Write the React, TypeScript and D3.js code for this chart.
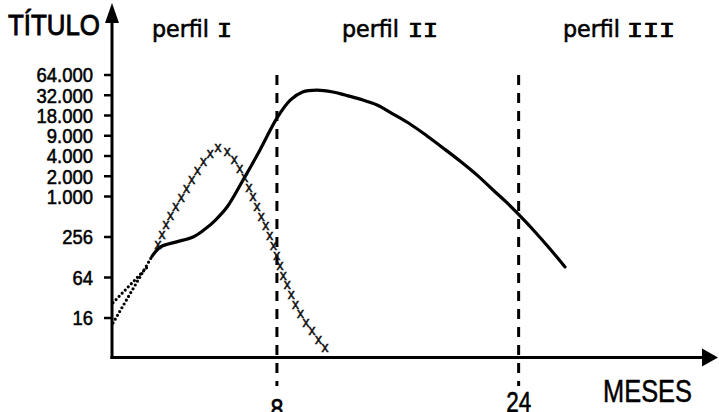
import React, { useEffect, useRef } from 'react';
import * as d3 from 'd3';

const W = 719;
const H = 412;

// Y axis (titre, log2 steps) ticks and labels
const yTickValues = [16, 64, 256, 1024, 2048, 4096, 8192, 16384, 32768, 65536];
const yTickLabels = ['16', '64', '256', '1.000', '2.000', '4.000', '9.000', '18.000', '32.000', '64.000'];

// X axis (months) ticks and labels
const xTickValues = [8, 24];
const xTickLabels = ['8', '24'];

// Profile labels
const profileWords = ['perfil', 'perfil', 'perfil'];
const profileNumerals = ['I', 'II', 'III'];

// Solid curve (months, titre)
const solidMonths = [-0.27, 0.3, 1.3, 2.45, 3.2, 3.9, 4.7, 5.76, 6.88, 8.0, 8.9, 9.7, 10.65, 11.7, 12.51, 13.5, 14.63, 15.69, 16.81, 17.94, 19.0, 20.12, 21.25, 22.31, 23.17, 24.03, 25.09, 26.08, 27.07];
const solidTitre = [132, 182, 215, 256, 330, 450, 714, 1800, 5040, 15000, 27900, 36600, 39000, 36600, 33000, 28700, 23500, 17200, 12250, 8130, 5390, 3450, 2130, 1280, 850, 544, 304, 170, 92];

// Cross-marked curve (months, titre)
const crossMonths = [0.13, 0.92, 1.72, 2.58, 3.44, 4.1, 4.76, 5.69, 6.68, 7.68, 8.4, 9.4, 10.39, 11.38];
const crossTitre = [194, 508, 1010, 2140, 3950, 5400, 4540, 2290, 714, 215, 70, 21, 9.6, 5.0];

// Dotted extrapolations toward the origin
const dottedUpperMonths = [-2.85, -0.45];
const dottedUpperTitre = [27, 98];
const dottedLowerMonths = [-2.85, -0.27];
const dottedLowerTitre = [13.5, 132];

export default function App() {
  const ref = useRef<SVGSVGElement>(null);

  useEffect(() => {
    const svg = d3.select(ref.current);
    svg.selectAll('*').remove();

    const x = d3.scaleLinear().domain([-2.85, 37.13]).range([113, 717]);
    const y = d3.scaleLog().base(2).domain([16, 65536]).range([318, 75]);

    const axisX = 112;
    const axisY = 357.5;
    const sans = "'Liberation Sans', Arial, sans-serif";

    // dashed vertical separators
    xTickValues.forEach((v) => {
      svg.append('line')
        .attr('x1', x(v)).attr('x2', x(v))
        .attr('y1', 75).attr('y2', 386)
        .attr('stroke', '#000').attr('stroke-width', 3)
        .attr('stroke-dasharray', '10 8');
    });

    // axes
    svg.append('line').attr('x1', axisX).attr('x2', axisX).attr('y1', axisY + 1.5).attr('y2', 20)
      .attr('stroke', '#000').attr('stroke-width', 3);
    svg.append('path').attr('d', `M${axisX},3 L${axisX - 7},23 L${axisX + 7},23 Z`).attr('fill', '#000');
    svg.append('line').attr('x1', axisX - 1.5).attr('x2', 704).attr('y1', axisY).attr('y2', axisY)
      .attr('stroke', '#000').attr('stroke-width', 3);
    svg.append('path').attr('d', `M718,${axisY} L702,${axisY - 9} L702,${axisY + 9} Z`).attr('fill', '#000');

    // y ticks
    yTickValues.forEach((v, i) => {
      const yy = y(v);
      svg.append('line').attr('x1', axisX - 8).attr('x2', axisX).attr('y1', yy).attr('y2', yy)
        .attr('stroke', '#000').attr('stroke-width', 2.5);
      svg.append('text')
        .attr('transform', `translate(93,${yy}) scale(0.88,1)`)
        .attr('text-anchor', 'end')
        .attr('dy', '0.35em')
        .attr('font-family', sans)
        .attr('font-size', 21)
        .attr('fill', '#000')
        .attr('stroke', '#000')
        .attr('stroke-width', 0.55)
        .text(yTickLabels[i]);
    });

    // x tick labels
    const xLabelBaselines = [419, 411.5];
    const xLabelWidths = [13, 25];
    xTickValues.forEach((v, i) => {
      svg.append('text')
        .attr('x', x(v)).attr('y', xLabelBaselines[i])
        .attr('text-anchor', 'middle')
        .attr('font-family', sans)
        .attr('font-size', 30)
        .attr('textLength', xLabelWidths[i])
        .attr('lengthAdjust', 'spacingAndGlyphs')
        .attr('fill', '#000')
        .attr('stroke', '#000')
        .attr('stroke-width', 0.6)
        .text(xTickLabels[i]);
    });

    // axis titles
    svg.append('text').attr('x', 8).attr('y', 35)
      .attr('font-family', sans).attr('font-size', 30)
      .attr('textLength', 92).attr('lengthAdjust', 'spacingAndGlyphs')
      .attr('fill', '#000').attr('stroke', '#000').attr('stroke-width', 0.9)
      .text('TÍTULO');
    svg.append('text').attr('x', 603).attr('y', 402)
      .attr('font-family', sans).attr('font-size', 32)
      .attr('textLength', 89).attr('lengthAdjust', 'spacingAndGlyphs')
      .attr('fill', '#000').attr('stroke', '#000').attr('stroke-width', 0.5)
      .text('MESES');

    // profile labels
    const wordX = [152, 342, 563];
    const numX = [217, 408, 627];
    const numW = [15, 30, 48];
    profileWords.forEach((w, i) => {
      svg.append('text').attr('x', wordX[i]).attr('y', 37)
        .attr('font-family', "'DejaVu Sans', sans-serif").attr('font-size', 23)
        .attr('textLength', 57).attr('lengthAdjust', 'spacingAndGlyphs')
        .attr('fill', '#000').attr('stroke', '#000').attr('stroke-width', 0.6)
        .text(w);
      svg.append('text').attr('x', numX[i]).attr('y', 37)
        .attr('font-family', "'DejaVu Sans Mono', 'Liberation Mono', monospace").attr('font-size', 19)
        .attr('textLength', numW[i]).attr('lengthAdjust', 'spacingAndGlyphs')
        .attr('fill', '#000').attr('stroke', '#000').attr('stroke-width', 0.7)
        .text(profileNumerals[i]);
    });

    const line = d3.line<[number, number]>()
      .x((d) => x(d[0]))
      .y((d) => y(d[1]))
      .curve(d3.curveCatmullRom.alpha(0.5));

    const straight = d3.line<[number, number]>().x((d) => x(d[0])).y((d) => y(d[1]));

    // dotted lines
    [[dottedUpperMonths, dottedUpperTitre], [dottedLowerMonths, dottedLowerTitre]].forEach(([ms, ts]) => {
      const pts = ms.map((m, i) => [m, ts[i]] as [number, number]);
      svg.append('path').attr('d', straight(pts))
        .attr('fill', 'none').attr('stroke', '#000').attr('stroke-width', 3.2)
        .attr('stroke-linecap', 'round').attr('stroke-dasharray', '0 4.4');
    });

    // solid curve
    const solidPts = solidMonths.map((m, i) => [m, solidTitre[i]] as [number, number]);
    svg.append('path').attr('d', line(solidPts))
      .attr('fill', 'none').attr('stroke', '#000').attr('stroke-width', 3.2)
      .attr('stroke-linejoin', 'round').attr('stroke-linecap', 'round');

    // crosses curve
    const crossPts = crossMonths.map((m, i) => [m, crossTitre[i]] as [number, number]);
    const guide = svg.append('path').attr('d', line(crossPts)).attr('fill', 'none').attr('stroke', 'none');
    const node = guide.node() as SVGPathElement;
    const L = node.getTotalLength();
    for (let s = 0; s <= L + 0.1; s += 10.5) {
      const p = node.getPointAtLength(Math.min(s, L));
      svg.append('text')
        .attr('x', p.x).attr('y', p.y)
        .attr('dy', '0.27em')
        .attr('text-anchor', 'middle')
        .attr('font-family', sans)
        .attr('font-size', 14)
        .attr('fill', '#111')
        .attr('stroke', '#111')
        .attr('stroke-width', 0.5)
        .text('x');
    }
  }, []);

  return (
    <svg
      ref={ref}
      width={W}
      height={H}
      style={{ position: 'absolute', left: 0, top: 0, background: '#fff', display: 'block' }}
    />
  );
}
